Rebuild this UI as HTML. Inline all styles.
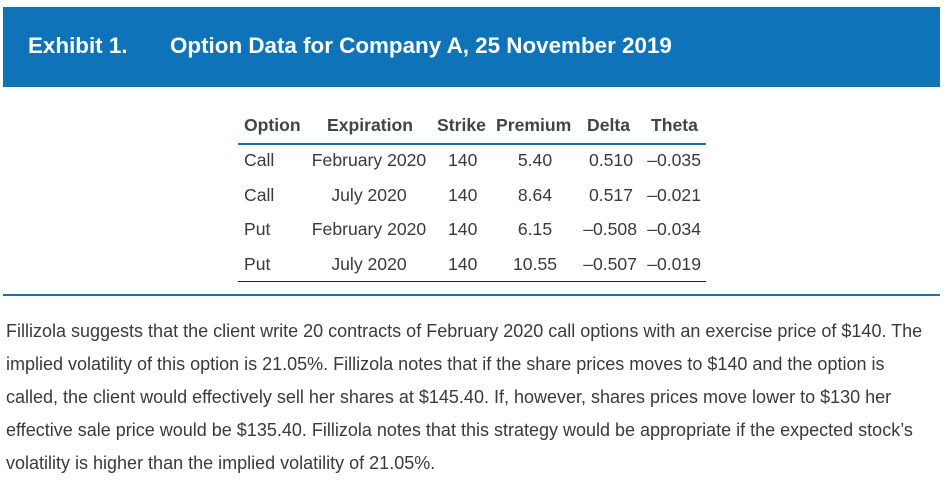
<!DOCTYPE html>
<html><head><meta charset="utf-8"><style>
body{margin:0;width:945px;height:483px;background:#fff;font-family:"Liberation Sans",Arial,sans-serif;position:relative;overflow:hidden;color:#3a3a3a}
.ban{position:absolute;left:3px;top:7px;width:937px;height:80px;background:#0f73ba}
.t{position:absolute;color:#fff;font-weight:bold;font-size:22.4px;top:33px;white-space:nowrap}
.a{position:absolute;font-size:17.6px;white-space:nowrap}
.h{font-weight:bold;color:#444}
.c{transform:translateX(-50%)}
.r{transform:translateX(-100%)}
p{position:absolute;left:6px;top:315px;width:940px;margin:0;font-size:18px;line-height:33px;color:#3a3a3a;white-space:nowrap}
</style></head><body>
<div class="ban"></div>
<div class="t" style="left:28px">Exhibit 1.</div>
<div class="t" style="left:170px">Option Data for Company A, 25 November 2019</div>

<div class="a h" style="left:244px;top:115px">Option</div>
<div class="a h c" style="left:370px;top:115px">Expiration</div>
<div class="a h" style="left:437px;top:115px">Strike</div>
<div class="a h" style="left:496px;top:115px">Premium</div>
<div class="a h" style="left:587px;top:115px">Delta</div>
<div class="a h" style="left:651px;top:115px">Theta</div>
<div style="position:absolute;left:238px;top:143px;width:468px;height:2px;background:#1e6fae"></div>

<div class="a" style="left:244px;top:150px">Call</div><div class="a c" style="left:369px;top:150px">February 2020</div><div class="a" style="left:448px;top:150px">140</div><div class="a c" style="left:535px;top:150px">5.40</div><div class="a r" style="left:633px;top:150px">0.510</div><div class="a r" style="left:701px;top:150px">–0.035</div>
<div class="a" style="left:244px;top:185px">Call</div><div class="a c" style="left:369px;top:185px">July 2020</div><div class="a" style="left:448px;top:185px">140</div><div class="a c" style="left:535px;top:185px">8.64</div><div class="a r" style="left:633px;top:185px">0.517</div><div class="a r" style="left:701px;top:185px">–0.021</div>
<div class="a" style="left:244px;top:219px">Put</div><div class="a c" style="left:369px;top:219px">February 2020</div><div class="a" style="left:448px;top:219px">140</div><div class="a c" style="left:535px;top:219px">6.15</div><div class="a r" style="left:637px;top:219px">–0.508</div><div class="a r" style="left:701px;top:219px">–0.034</div>
<div class="a" style="left:244px;top:254px">Put</div><div class="a c" style="left:369px;top:254px">July 2020</div><div class="a" style="left:448px;top:254px">140</div><div class="a c" style="left:535px;top:254px">10.55</div><div class="a r" style="left:637px;top:254px">–0.507</div><div class="a r" style="left:701px;top:254px">–0.019</div>
<div style="position:absolute;left:238px;top:281px;width:468px;height:1px;background:#222"></div>
<div style="position:absolute;left:3px;top:294px;width:937px;height:2px;background:#1e6fae"></div>

<p>Fillizola suggests that the client write 20 contracts of February 2020 call options with an exercise price of $140. The<br>implied volatility of this option is 21.05%. Fillizola notes that if the share prices moves to $140 and the option is<br>called, the client would effectively sell her shares at $145.40. If, however, shares prices move lower to $130 her<br>effective sale price would be $135.40. Fillizola notes that this strategy would be appropriate if the expected stock’s<br>volatility is higher than the implied volatility of 21.05%.</p>
</body></html>
